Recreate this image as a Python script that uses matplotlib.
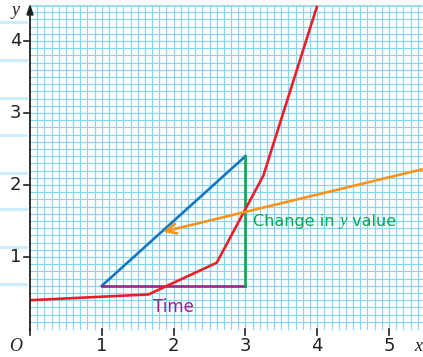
import numpy as np
import matplotlib
matplotlib.use("Agg")
import matplotlib.pyplot as plt

# Data
red_x = [0.0, 1.65, 2.6, 3.25, 4.0]
red_y = [0.40, 0.48, 0.92, 2.13, 4.49]
blue_x = [1.0, 3.0]
blue_y = [0.6, 2.4]
time_x = [1.0, 3.0]
time_y = [0.6, 0.6]
change_x = [3.0, 3.0]
change_y = [0.6, 2.4]
orange_start = (5.47, 2.22)
orange_end = (1.85, 1.35)
x_ticks = [1, 2, 3, 4, 5]
y_ticks = [1, 2, 3, 4]
side_stripes = [4.26, 3.74, 3.21, 2.69, 2.17, 1.66, 1.14, 0.62]

W, H = 423, 357
fig = plt.figure(figsize=(W / 100, H / 100), dpi=100)
ax = fig.add_axes([0, 0, 1, 1])
ppu_x, ppu_y = 71.8, 72.0
x0px, y0px = 30, 329
ax.set_xlim(-x0px / ppu_x, (W - x0px) / ppu_x)
ax.set_ylim(-(H - y0px) / ppu_y, y0px / ppu_y)
ax.axis('off')

XMAX = (W - x0px) / ppu_x
YMAX = 4.49
gc = '#86d5f4'
for i in range(1, 55):
    xv = i * 0.1
    ax.plot([xv, xv], [0, YMAX], color=gc, lw=0.85, zorder=1)
for i in range(1, 45):
    yv = i * 0.1
    ax.plot([0, XMAX], [yv, yv], color=gc, lw=0.85, zorder=1)
ax.plot([0, XMAX], [YMAX, YMAX], color=gc, lw=1.2, zorder=1)
for s in side_stripes:
    ax.plot([-0.42, -0.05], [s, s], color='#c8ecfa', lw=2.0, zorder=1)

# Lines
ax.plot(red_x, red_y, color='#e8202a', lw=1.9, zorder=4, solid_capstyle='butt')
ax.plot(blue_x, blue_y, color='#1577c0', lw=1.9, zorder=3)
ax.plot(time_x, time_y, color='#93278f', lw=1.9, zorder=3)
ax.plot(change_x, change_y, color='#00a651', lw=1.9, zorder=3)
ax.annotate('', xy=orange_end, xytext=orange_start,
            arrowprops=dict(arrowstyle='->,head_length=0.75,head_width=0.35',
                            color='#f7941d', lw=1.9, shrinkA=0, shrinkB=0),
            zorder=5)

# Axes
ax.annotate('', xy=(0, 4.52), xytext=(0, -0.02),
            arrowprops=dict(arrowstyle='-|>,head_length=0.6,head_width=0.2',
                            color='#231f20', lw=1.3, shrinkA=0, shrinkB=0), zorder=6)
ax.annotate('', xy=(5.5, 0), xytext=(-0.02, 0),
            arrowprops=dict(arrowstyle='-|>,head_length=0.6,head_width=0.2',
                            color='#231f20', lw=1.3, shrinkA=0, shrinkB=0), zorder=6)
for t in x_ticks:
    ax.plot([t, t], [0, -0.08], color='#231f20', lw=1.2, zorder=6)
    ax.text(t, -0.11, str(t), ha='center', va='top', fontsize=13,
            family='DejaVu Sans', color='#231f20')
ax.plot([0, 0], [0, -0.08], color='#231f20', lw=1.2, zorder=6)
for t in y_ticks:
    ax.plot([0, -0.08], [t, t], color='#231f20', lw=1.2, zorder=6)
    ax.text(-0.12, t, str(t), ha='right', va='center', fontsize=13,
            family='DejaVu Sans', color='#231f20')

ax.text(-0.2, -0.12, 'O', ha='center', va='top', fontsize=13, style='italic',
        family='Liberation Serif', color='#231f20')
ax.text(-0.2, 4.42, 'y', ha='center', va='center', fontsize=13, style='italic',
        family='Liberation Serif', color='#231f20')
ax.text(5.4, -0.12, 'x', ha='center', va='top', fontsize=13, style='italic',
        family='Liberation Serif', color='#231f20')

ax.text(2.0, 0.31, 'Time', ha='center', va='center', fontsize=12,
        family='DejaVu Sans', color='#93278f', zorder=7)
ax.text(3.1, 1.5, 'Change in ', ha='left', va='center', fontsize=11.5,
        family='DejaVu Sans', color='#00a651', zorder=7)
t1 = ax.texts[-1]
fig.canvas.draw()
bb = t1.get_window_extent()
xr = ax.transData.inverted().transform((bb.x1, bb.y0))[0]
t2 = ax.text(xr, 1.5, 'y', ha='left', va='center', fontsize=12.5, style='italic',
             family='Liberation Serif', color='#00a651', zorder=7)
fig.canvas.draw()
bb2 = t2.get_window_extent()
xr2 = ax.transData.inverted().transform((bb2.x1, bb2.y0))[0]
ax.text(xr2, 1.5, ' value', ha='left', va='center', fontsize=11.5,
        family='DejaVu Sans', color='#00a651', zorder=7)

fig.savefig('out.png', dpi=100)
